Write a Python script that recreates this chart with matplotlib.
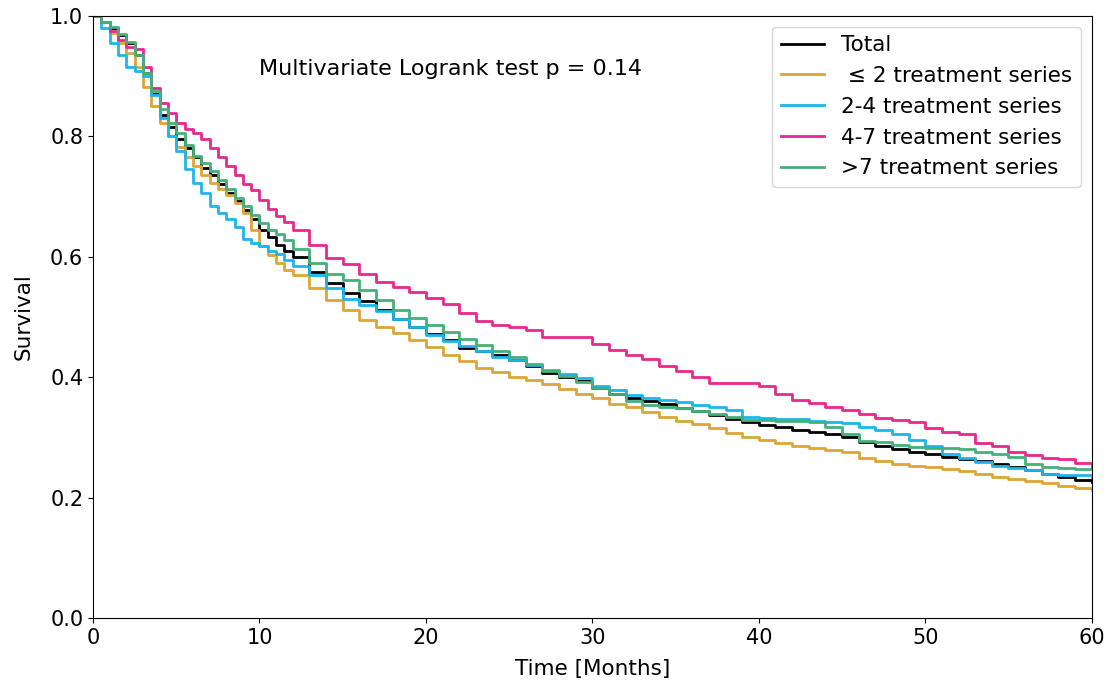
import matplotlib
matplotlib.use("Agg")
import matplotlib.pyplot as plt

# time grid (months): half-month steps early, monthly afterwards
months = [0, 0.5, 1, 1.5, 2, 2.5, 3, 3.5, 4, 4.5, 5, 5.5, 6, 6.5, 7, 7.5, 8, 8.5, 9, 9.5,
          10, 10.5, 11, 11.5, 12] + list(range(13, 61))

total = [1.000, 0.990, 0.980, 0.968, 0.955, 0.935, 0.905, 0.870, 0.835, 0.815, 0.795, 0.780,
         0.765, 0.748, 0.735, 0.720, 0.705, 0.692, 0.678, 0.662, 0.645, 0.632, 0.620, 0.610, 0.600,
         0.575, 0.556, 0.540, 0.526, 0.511, 0.497, 0.483, 0.472, 0.462, 0.448, 0.443, 0.436, 0.428,
         0.418, 0.407, 0.400, 0.393, 0.382, 0.372, 0.366, 0.360, 0.355, 0.349, 0.343, 0.337, 0.331,
         0.326, 0.321, 0.317, 0.313, 0.309, 0.305, 0.300, 0.292, 0.285, 0.280, 0.276, 0.272, 0.268,
         0.264, 0.260, 0.256, 0.251, 0.246, 0.240, 0.235, 0.230, 0.226]

le2 = [1.000, 0.990, 0.972, 0.955, 0.938, 0.915, 0.882, 0.850, 0.822, 0.800, 0.782, 0.765,
       0.750, 0.735, 0.722, 0.712, 0.702, 0.690, 0.672, 0.645, 0.617, 0.603, 0.590, 0.578, 0.570,
       0.548, 0.528, 0.511, 0.495, 0.484, 0.473, 0.461, 0.450, 0.437, 0.427, 0.416, 0.408, 0.400,
       0.395, 0.389, 0.380, 0.372, 0.365, 0.356, 0.350, 0.342, 0.334, 0.328, 0.322, 0.316, 0.308,
       0.300, 0.295, 0.290, 0.286, 0.282, 0.279, 0.276, 0.265, 0.260, 0.256, 0.252, 0.250, 0.247,
       0.244, 0.240, 0.235, 0.231, 0.228, 0.224, 0.220, 0.216, 0.212]

s2_4 = [1.000, 0.980, 0.955, 0.935, 0.915, 0.908, 0.900, 0.868, 0.830, 0.800, 0.775, 0.745,
        0.722, 0.705, 0.685, 0.672, 0.662, 0.650, 0.630, 0.622, 0.617, 0.610, 0.604, 0.595, 0.585,
        0.570, 0.548, 0.530, 0.520, 0.510, 0.497, 0.483, 0.470, 0.460, 0.452, 0.444, 0.434, 0.428,
        0.420, 0.412, 0.405, 0.398, 0.385, 0.378, 0.370, 0.365, 0.362, 0.358, 0.354, 0.350, 0.345,
        0.334, 0.333, 0.331, 0.330, 0.328, 0.325, 0.324, 0.318, 0.313, 0.306, 0.296, 0.285, 0.272,
        0.265, 0.259, 0.253, 0.249, 0.246, 0.240, 0.237, 0.237, 0.235]

s4_7 = [1.000, 0.990, 0.975, 0.960, 0.948, 0.945, 0.915, 0.880, 0.855, 0.838, 0.822, 0.812,
        0.805, 0.795, 0.780, 0.765, 0.750, 0.735, 0.720, 0.710, 0.695, 0.680, 0.668, 0.658, 0.645,
        0.620, 0.598, 0.588, 0.572, 0.558, 0.550, 0.542, 0.532, 0.522, 0.506, 0.494, 0.486, 0.483,
        0.478, 0.467, 0.467, 0.466, 0.455, 0.445, 0.437, 0.430, 0.418, 0.410, 0.400, 0.390, 0.390,
        0.390, 0.385, 0.372, 0.362, 0.357, 0.351, 0.346, 0.338, 0.332, 0.329, 0.325, 0.315, 0.309,
        0.305, 0.291, 0.285, 0.276, 0.270, 0.266, 0.264, 0.257, 0.251]

gt7 = [1.000, 0.990, 0.982, 0.970, 0.957, 0.935, 0.905, 0.875, 0.845, 0.822, 0.805, 0.785,
       0.768, 0.755, 0.742, 0.728, 0.712, 0.698, 0.685, 0.670, 0.656, 0.645, 0.638, 0.627, 0.613,
       0.590, 0.572, 0.562, 0.545, 0.528, 0.512, 0.498, 0.486, 0.475, 0.463, 0.454, 0.444, 0.433,
       0.422, 0.411, 0.402, 0.392, 0.382, 0.372, 0.360, 0.354, 0.351, 0.348, 0.344, 0.339, 0.334,
       0.329, 0.329, 0.328, 0.327, 0.325, 0.318, 0.305, 0.294, 0.292, 0.288, 0.284, 0.282, 0.282,
       0.280, 0.276, 0.272, 0.268, 0.255, 0.250, 0.249, 0.248, 0.247]

series = [
    ("Total", total, "black"),
    (" \u2264 2 treatment series", le2, "#DDA535"),
    ("2-4 treatment series", s2_4, "#1DB5EC"),
    ("4-7 treatment series", s4_7, "#E8288C"),
    (">7 treatment series", gt7, "#45B07A"),
]

fig = plt.figure(figsize=(11.14, 6.89), dpi=100)
ax = fig.add_axes([0.0835, 0.103, 0.8965, 0.874])

for label, vals, col in series:
    ax.plot(months, vals, drawstyle="steps-post", color=col, lw=2, label=label)

ax.set_xlim(0, 60)
ax.set_ylim(0, 1.0)
ax.set_xticks(range(0, 61, 10))
ax.set_yticks([0, 0.2, 0.4, 0.6, 0.8, 1.0])
ax.tick_params(labelsize=15)
ax.set_xlabel("Time [Months]", fontsize=15.5, labelpad=8)
ax.set_ylabel("Survival", fontsize=15.5, labelpad=12)

ax.text(10, 0.912, "Multivariate Logrank test p = 0.14", fontsize=16, va="center")

ax.legend(loc="upper right", fontsize=15.5)

fig.savefig("out.png", dpi=100)
